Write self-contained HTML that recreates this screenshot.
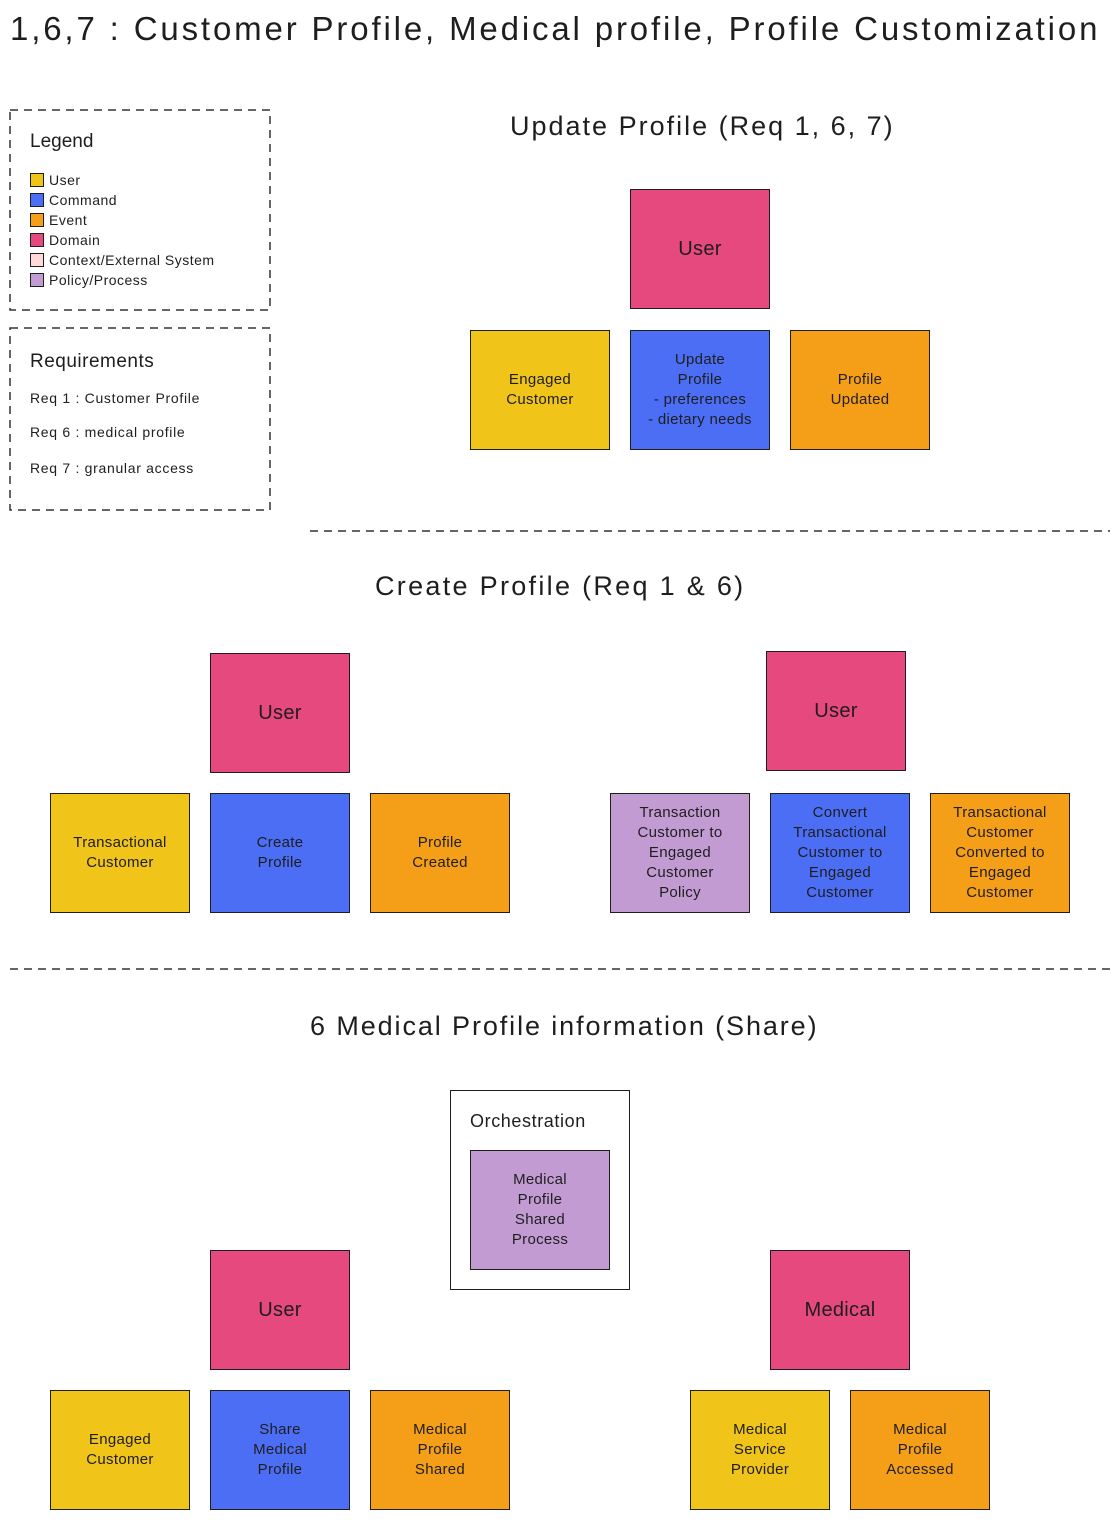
<!DOCTYPE html>
<html><head><meta charset="utf-8"><style>
body{margin:0;width:1120px;height:1520px;background:#fff;position:relative;font-family:"Liberation Sans",sans-serif;color:#1e1e1e;overflow:hidden}
.b{position:absolute;width:140px;height:120px;border:1.5px solid #1e1e1e;box-sizing:border-box;display:flex;align-items:center;justify-content:center;text-align:center;font-size:15px;line-height:20px;letter-spacing:0.3px}
.Y{background:#f0c419}.C{background:#4c6ef5}.E{background:#f59f19}.D{background:#e6497e}.P{background:#c39bd3}
.D{font-size:20px}
.t{position:absolute;white-space:nowrap}
.sw{display:inline-block;width:12px;height:12px;border:1.5px solid #1e1e1e;vertical-align:-2px;margin-right:5px}
svg{position:absolute;left:0;top:0}
</style></head><body>
<svg width="1120" height="1520">
<g fill="none" stroke="#333" stroke-width="1.5" stroke-dasharray="8 6">
<rect x="10" y="110" width="260" height="200"/>
<rect x="10" y="328" width="260" height="182"/>
<line x1="310" y1="531" x2="1110" y2="531"/>
<line x1="10" y1="969" x2="1110" y2="969"/>
</g></svg>
<div class="t" style="left:10px;top:10px;font-size:33px;letter-spacing:2.85px">1,6,7 : Customer Profile, Medical profile, Profile Customization</div>

<div class="t" style="left:30px;top:131px;font-size:19px">Legend</div>
<div class="t" style="left:30px;top:170px;font-size:14px;line-height:20px;letter-spacing:0.5px">
<div><span class="sw Y"></span>User</div>
<div><span class="sw C"></span>Command</div>
<div><span class="sw E"></span>Event</div>
<div><span class="sw D" style="font-size:0"></span>Domain</div>
<div><span class="sw" style="background:#ffd8d8"></span>Context/External System</div>
<div><span class="sw P"></span>Policy/Process</div>
</div>

<div class="t" style="left:30px;top:351px;font-size:19px;letter-spacing:0.5px">Requirements</div>
<div class="t" style="left:30px;top:390px;font-size:14px;letter-spacing:0.7px">Req 1 : Customer Profile</div>
<div class="t" style="left:30px;top:424px;font-size:14px;letter-spacing:0.7px">Req 6 : medical profile</div>
<div class="t" style="left:30px;top:460px;font-size:14px;letter-spacing:0.7px">Req 7 : granular access</div>

<div class="t" style="left:510px;top:111px;font-size:27px;letter-spacing:2px">Update Profile (Req 1, 6, 7)</div>
<div class="b D" style="left:630px;top:189px">User</div>
<div class="b Y" style="left:470px;top:330px">Engaged<br>Customer</div>
<div class="b C" style="left:630px;top:330px">Update<br>Profile<br>- preferences<br>- dietary needs</div>
<div class="b E" style="left:790px;top:330px">Profile<br>Updated</div>

<div class="t" style="left:375px;top:571px;font-size:27px;letter-spacing:2.3px">Create Profile (Req 1 &amp; 6)</div>
<div class="b D" style="left:210px;top:653px">User</div>
<div class="b Y" style="left:50px;top:793px">Transactional<br>Customer</div>
<div class="b C" style="left:210px;top:793px">Create<br>Profile</div>
<div class="b E" style="left:370px;top:793px">Profile<br>Created</div>
<div class="b D" style="left:766px;top:651px">User</div>
<div class="b P" style="left:610px;top:793px">Transaction<br>Customer to<br>Engaged<br>Customer<br>Policy</div>
<div class="b C" style="left:770px;top:793px">Convert<br>Transactional<br>Customer to<br>Engaged<br>Customer</div>
<div class="b E" style="left:930px;top:793px">Transactional<br>Customer<br>Converted to<br>Engaged<br>Customer</div>

<div class="t" style="left:310px;top:1011px;font-size:27px;letter-spacing:1.9px">6 Medical Profile information (Share)</div>
<div style="position:absolute;left:450px;top:1090px;width:180px;height:200px;border:1.5px solid #1e1e1e;box-sizing:border-box"></div>
<div class="t" style="left:470px;top:1111px;font-size:18px;letter-spacing:0.6px">Orchestration</div>
<div class="b P" style="left:470px;top:1150px">Medical<br>Profile<br>Shared<br>Process</div>
<div class="b D" style="left:210px;top:1250px">User</div>
<div class="b Y" style="left:50px;top:1390px">Engaged<br>Customer</div>
<div class="b C" style="left:210px;top:1390px">Share<br>Medical<br>Profile</div>
<div class="b E" style="left:370px;top:1390px">Medical<br>Profile<br>Shared</div>
<div class="b D" style="left:770px;top:1250px">Medical</div>
<div class="b Y" style="left:690px;top:1390px">Medical<br>Service<br>Provider</div>
<div class="b E" style="left:850px;top:1390px">Medical<br>Profile<br>Accessed</div>
</body></html>
